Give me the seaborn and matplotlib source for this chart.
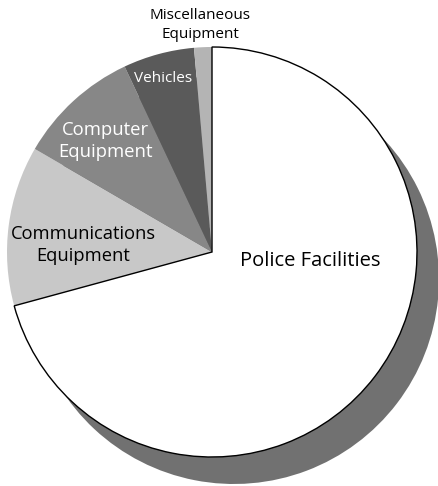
import matplotlib
matplotlib.use("Agg")
import matplotlib.pyplot as plt
import seaborn as sns

sns.set_theme(style="white")
plt.rcParams["font.family"] = ["Open Sans", "DejaVu Sans"]

# Share of spending by category (percent)
categories = ["Police Facilities", "Communications\nEquipment", "Computer\nEquipment",
              "Vehicles", "Miscellaneous\nEquipment"]
shares = [70.7, 12.6, 9.6, 5.6, 1.4]
slice_colors = ["#ffffff", "#c8c8c8", "#878787", "#5a5a5a", "#b4b4b4"]
shadow_color = "#717171"

W, H = 438, 486
fig = plt.figure(figsize=(W / 100, H / 100), dpi=100)
ax = fig.add_axes([0, 0, 1, 1])

cx, cy, r = 212, H - 252, 205

# drop shadow behind the pie
ax.pie(shares, colors=[shadow_color] * len(shares), radius=r,
       center=(cx + 22, cy - 27), startangle=90, counterclock=False,
       wedgeprops=dict(linewidth=0), frame=True)

wedges, _ = ax.pie(shares, colors=slice_colors, radius=r, center=(cx, cy),
                   startangle=90, counterclock=False,
                   wedgeprops=dict(linewidth=0), frame=True)
wedges[0].set_edgecolor("black")
wedges[0].set_linewidth(1.0)
wedges[0].set_zorder(3)

ax.set_xlim(0, W)
ax.set_ylim(0, H)
ax.set_aspect("equal")
ax.axis("off")

label_style = [
    dict(xy=(310, 261), color="black", size=14.5),
    dict(xy=(83, 245), color="black", size=13.2),
    dict(xy=(105, 141), color="white", size=13.3),
    dict(xy=(163, 78), color="white", size=11),
    dict(xy=(200, 25), color="black", size=11),
]
for text, st in zip(categories, label_style):
    x, y = st["xy"]
    ax.text(x, H - y, text, ha="center", va="center", color=st["color"],
            fontsize=st["size"], linespacing=1.3, zorder=5)

fig.savefig("out.png", dpi=100)
